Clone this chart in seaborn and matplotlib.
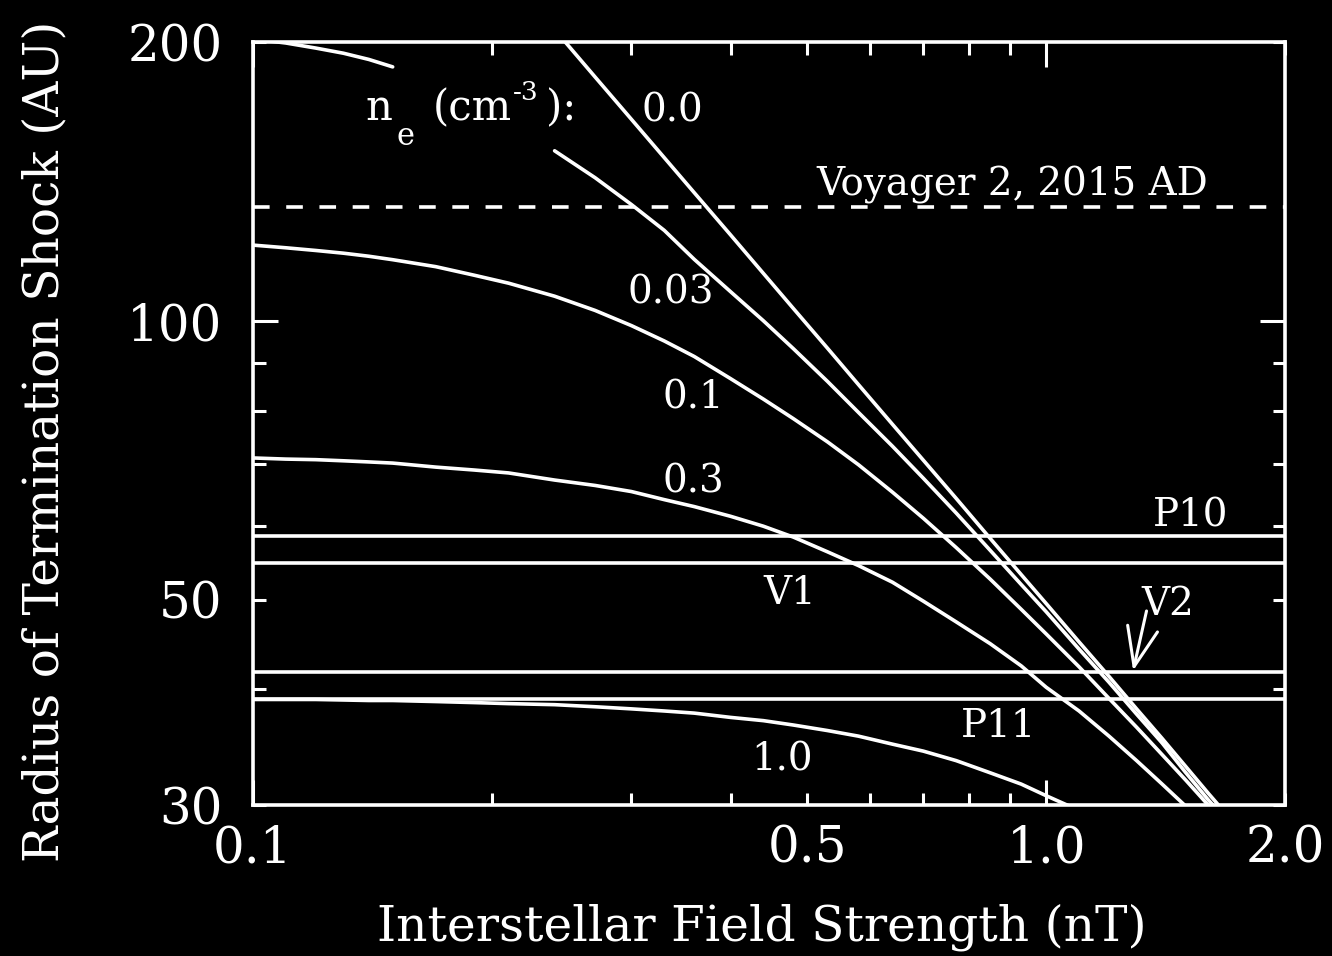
import numpy as np
import pandas as pd
import matplotlib
matplotlib.use("Agg")
import matplotlib.pyplot as plt
from matplotlib.ticker import FixedLocator, FuncFormatter
import seaborn as sns

# ---------------- data ----------------
# interstellar field strength grid (nT)
B_grid = [0.10, 0.11, 0.12, 0.13, 0.14, 0.15, 0.17, 0.19, 0.21, 0.24,
          0.27, 0.30, 0.33, 0.36, 0.40, 0.44, 0.48, 0.53, 0.58, 0.64,
          0.70, 0.77, 0.85, 0.93, 1.00, 1.10, 1.20, 1.30, 1.40, 1.50,
          1.60, 1.70, 1.80, 2.00]

# termination-shock radius (AU) for each interstellar electron density n_e (cm^-3)
R_ne_000 = [495.0, 450.0, 412.5, 380.8, 353.6, 330.0, 291.2, 260.5, 235.7, 206.3,
            183.3, 165.0, 150.0, 137.5, 123.8, 112.5, 103.1, 93.4, 85.3, 77.3,
            70.7, 64.3, 58.2, 53.2, 49.5, 45.0, 41.3, 38.1, 35.4, 33.0,
            30.9, 29.1, 27.5, 24.8]
R_ne_003 = [201.5, 199.5, 197.0, 194.5, 191.5, 188.0, 178.9, 171.0, 163.4, 152.6,
            142.7, 133.5, 125.2, 116.5, 107.5, 100.0, 93.3, 86.0, 79.6, 73.2,
            67.6, 62.0, 56.5, 51.9, 48.5, 44.2, 40.7, 37.6, 35.0, 32.5,
            30.4, 28.7, 27.2, 24.5]
R_ne_010 = [120.7, 119.9, 119.1, 118.3, 117.4, 116.4, 114.4, 112.0, 109.8, 106.3,
            102.6, 98.8, 95.1, 91.5, 86.6, 82.3, 78.4, 74.0, 69.9, 65.3,
            61.2, 56.9, 52.6, 48.8, 45.9, 42.3, 39.1, 36.4, 34.0, 31.9,
            30.0, 28.4, 26.9, 24.3]
R_ne_030 = [71.1, 70.9, 70.8, 70.6, 70.4, 70.2, 69.5, 69.0, 68.5, 67.3,
            66.4, 65.4, 64.1, 63.0, 61.5, 60.0, 58.4, 56.3, 54.4, 52.2,
            49.8, 47.3, 44.8, 42.4, 40.2, 37.9, 35.6, 33.5, 31.6, 29.9,
            28.4, 26.9, 25.6, 23.4]
R_ne_100 = [39.0, 39.0, 39.0, 38.95, 38.9, 38.9, 38.8, 38.7, 38.6, 38.5,
            38.3, 38.1, 37.9, 37.7, 37.3, 37.0, 36.6, 36.1, 35.6, 34.9,
            34.3, 33.5, 32.5, 31.6, 30.7, 29.6, 28.4, 27.3, 26.3, 25.3,
            24.3, 23.4, 22.5, 21.0]

ne_labels = ["0.0", "0.03", "0.1", "0.3", "1.0"]
curves = [R_ne_000, R_ne_003, R_ne_010, R_ne_030, R_ne_100]

# spacecraft heliocentric distances (AU)
craft_names = ["P10", "V1", "V2", "P11"]
craft_R = [58.6, 54.8, 41.8, 39.0]
voyager2_2015_R = 132.7

# x / y tick labels
x_ticklabels = {0.1: "0.1", 0.5: "0.5", 1.0: "1.0", 2.0: "2.0"}
y_ticklabels = {30: "30", 50: "50", 100: "100", 200: "200"}

# ---------------- layout / style ----------------
gap_003 = (0.15, 0.24)  # the 0.03 curve is interrupted behind the n_e legend text

rows = []
for lab, R in zip(ne_labels, curves):
    for b, r in zip(B_grid, R):
        piece = lab
        if lab == "0.03":
            if gap_003[0] < b < gap_003[1]:
                continue
            piece = lab + ("a" if b <= gap_003[0] else "b")
        rows.append({"B": b, "R": r, "ne": lab, "piece": piece})
df = pd.DataFrame(rows)

sns.set_theme(style="ticks")
plt.rcParams["font.family"] = ["DejaVu Serif"]
plt.rcParams["mathtext.fontset"] = "dejavuserif"
plt.rcParams["axes.edgecolor"] = "white"
plt.rcParams["text.color"] = "white"

W, H = 1332, 956
fig = plt.figure(figsize=(W / 100, H / 100), dpi=100)
fig.patch.set_facecolor("black")
ax = fig.add_axes([253 / W, 1 - 805 / H, 1032 / W, 763 / H])
ax.set_facecolor("black")
ax.set_xscale("log")
ax.set_yscale("log")

LW = 2.6
sns.lineplot(data=df, x="B", y="R", units="piece", estimator=None,
             color="white", linewidth=LW, legend=False, ax=ax)

for r in craft_R:
    ax.axhline(r, color="white", lw=LW)
ax.axhline(voyager2_2015_R, color="white", lw=LW, ls=(0, (4.6, 4.6)))

ax.set_xlim(0.1, 2.0)
ax.set_ylim(30, 200)

# ticks
ax.xaxis.set_major_locator(FixedLocator([0.1, 1.0]))
ax.xaxis.set_minor_locator(FixedLocator([0.2, 0.3, 0.4, 0.5, 0.6, 0.7, 0.8, 0.9, 2.0]))
ax.yaxis.set_major_locator(FixedLocator([100]))
ax.yaxis.set_minor_locator(FixedLocator([30, 40, 50, 60, 70, 80, 90, 200]))

def xfmt(v, p):
    for k, s in x_ticklabels.items():
        if abs(v - k) < 1e-6:
            return s
    return ""

def yfmt(v, p):
    for k, s in y_ticklabels.items():
        if abs(v - k) < 1e-6:
            return s
    return ""

for axis, f in ((ax.xaxis, xfmt), (ax.yaxis, yfmt)):
    axis.set_major_formatter(FuncFormatter(f))
    axis.set_minor_formatter(FuncFormatter(f))

ax.tick_params(which="both", direction="in", top=True, right=True,
               colors="white", width=2.2, labelsize=36)
ax.tick_params(axis="x", which="both", pad=14)
ax.tick_params(axis="y", which="both", pad=22)
ax.tick_params(which="major", length=18)
ax.tick_params(which="minor", length=9)
for s in ax.spines.values():
    s.set_color("white")
    s.set_linewidth(2.6)

ax.set_xlabel("Interstellar Field Strength (nT)", fontsize=35, color="white")
ax.set_ylabel("Radius of Termination Shock (AU)", fontsize=35, color="white")
ax.xaxis.label.set_va("baseline")
ax.xaxis.set_label_coords(0.493, -0.177)
ax.yaxis.label.set_va("baseline")
ax.yaxis.set_label_coords(-0.189, 0.476)

# annotations
FS = 28
# "n_e (cm^-3):" built from pieces so the subscript / superscript sit like the original
ne_anchor = (0.1384, 164.7)
ne_pieces = [("n", 30, 0, 0), ("e", 22, 23, -18), ("(cm", 30, 49, 0),
             ("-3", 19, 106.5, 14.5), ("):", 30, 130, 0)]
for txt, fs, dx, dy in ne_pieces:
    ax.annotate(txt, xy=ne_anchor, xytext=(dx, dy), textcoords="offset points",
                fontsize=fs, ha="left", va="baseline", color="white")

label_pos = {"0.0": (0.3375, 164.3), "0.03": (0.3365, 104.5), "0.1": (0.3587, 80.5),
             "0.3": (0.3595, 65.2), "1.0": (0.4644, 32.7)}
for lab in ne_labels:
    x, y = label_pos[lab]
    ax.text(x, y, lab, fontsize=FS, ha="center", va="baseline")

craft_pos = {"P10": (1.522, 59.9), "V1": (0.4753, 49.5), "V2": (1.424, 48.1),
             "P11": (0.872, 35.5)}
for name in craft_names:
    x, y = craft_pos[name]
    ax.text(x, y, name, fontsize=FS, ha="center", va="baseline")

ax.text(0.9054, 136.7, "Voyager 2, 2015 AD", fontsize=FS, ha="center", va="baseline")

ax.annotate("", xy=(1.287, 41.9), xytext=(1.338, 48.6),
            arrowprops=dict(arrowstyle="->,head_length=1.4,head_width=0.55",
                            color="white", lw=2.2, mutation_scale=20,
                            shrinkA=0, shrinkB=0))

fig.savefig("out.png", dpi=100, facecolor="black")
